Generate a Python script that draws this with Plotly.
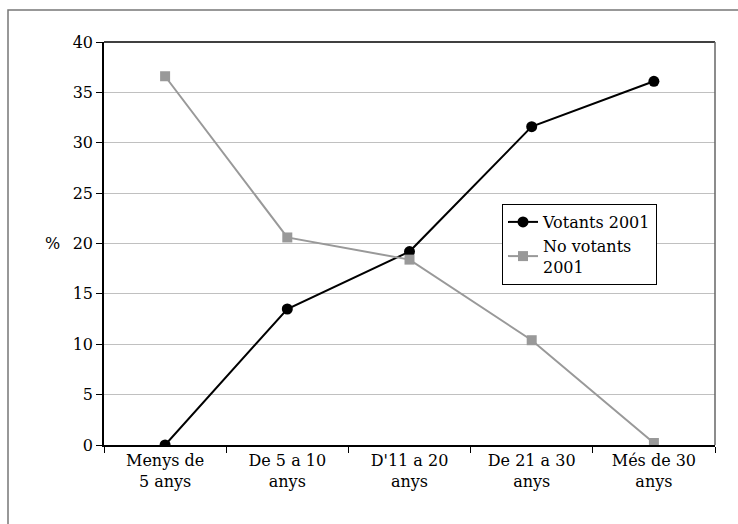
import plotly.graph_objects as go

categories = ["Menys de<br>5 anys", "De 5 a 10<br>anys", "D'11 a 20<br>anys", "De 21 a 30<br>anys", "Més de 30<br>anys"]
votants = [0.0, 13.5, 19.2, 31.6, 36.1]
no_votants = [36.6, 20.6, 18.4, 10.4, 0.2]
y_ticks = [0, 5, 10, 15, 20, 25, 30, 35, 40]

FONT = "DejaVu Serif"
FS = 16

fig = go.Figure()
fig.add_trace(go.Scatter(
    x=categories, y=votants, name="Votants 2001", mode="lines+markers",
    line=dict(color="black", width=2),
    marker=dict(symbol="circle", size=11, color="black"),
))
fig.add_trace(go.Scatter(
    x=categories, y=no_votants, name="No votants<br>2001", mode="lines+markers",
    line=dict(color="#999999", width=2),
    marker=dict(symbol="square", size=10, color="#999999"),
))

W, H = 738, 524
L, R, T, B = 104, 23, 42, 79
pw, ph = W - L - R, H - T - B

def px(x):
    return (x - L) / pw

def py(y):
    return (H - B - y) / ph

fig.update_layout(
    width=W, height=H,
    margin=dict(l=L, r=R, t=T, b=B),
    paper_bgcolor="white", plot_bgcolor="white",
    font=dict(family=FONT, size=FS, color="black"),
    showlegend=True,
    legend=dict(
        x=px(502), y=py(204), xanchor="left", yanchor="top",
        bordercolor="black", borderwidth=1, bgcolor="white",
        font=dict(family=FONT, size=FS, color="black"),
        tracegroupgap=4,
    ),
    xaxis=dict(
        type="category", range=[-0.5, 4.5],
        showline=True, linecolor="black", linewidth=1.5,
        ticks="outside", ticklen=6, tickcolor="black", tickson="boundaries",
        showgrid=False, zeroline=False,
        tickfont=dict(family=FONT, size=FS, color="black"),
    ),
    yaxis=dict(
        range=[0, 40], tickvals=y_ticks,
        showline=True, linecolor="black", linewidth=1.5,
        ticks="outside", ticklen=6, tickcolor="black",
        showgrid=True, gridcolor="#c0c0c0", gridwidth=1,
        zeroline=False,
        tickfont=dict(family=FONT, size=FS, color="black"),
    ),
    shapes=[
        dict(type="line", xref="paper", yref="paper", x0=0, x1=1, y0=1, y1=1,
             line=dict(color="black", width=1.5)),
        dict(type="line", xref="paper", yref="paper", x0=1, x1=1, y0=0, y1=1,
             line=dict(color="#666666", width=1.5)),
        dict(type="rect", xref="paper", yref="paper",
             x0=px(8), x1=px(760), y0=py(560), y1=py(10),
             line=dict(color="#777777", width=1.5), layer="below"),
    ],
    annotations=[
        dict(text="%", xref="paper", yref="paper", x=px(43), y=py(243),
             showarrow=False, font=dict(family=FONT, size=FS, color="black")),
    ],
)

fig.write_html("out.html")
